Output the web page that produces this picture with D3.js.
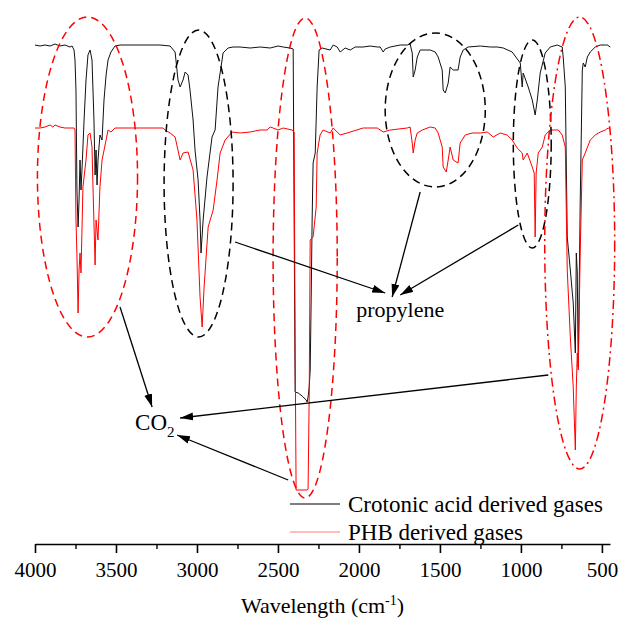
<!DOCTYPE html>
<html>
<head>
<meta charset="utf-8">
<script src="https://cdn.jsdelivr.net/npm/d3@7"></script>
<style>
  body { margin: 0; background: #fff; }
  svg text { font-family: "Liberation Serif", "Times New Roman", serif; fill: #000; }
</style>
</head>
<body>
<div id="chart"></div>
<script>
// Spectra: [wavenumber cm-1, signal] (arbitrary stacked units)
const crotonicSpectrum = [
  [4000,100],[3969,99.8],[3938,100],[3907,99.8],[3876,100.2],[3846,99.8],[3815,100],[3784,99.6],[3771,99.8],
  [3759,99],[3753,97],[3747,91],[3741,71],[3734,63.6],[3728,69],[3722,77],[3716,71],[3710,75],[3697,85],
  [3685,93],[3673,98],[3660,99],[3648,97],[3636,85],[3629,74],[3623,79],[3617,72],[3611,77],[3599,82],
  [3586,81],[3574,89],[3561,94],[3549,97],[3531,98.6],[3506,99.8],[3475,100],[3413,100],[3351,100],
  [3290,100],[3228,100],[3166,99.8],[3135,98.6],[3117,93],[3104,91.6],[3086,93],[3073,94.6],[3055,94],
  [3043,91],[3024,85],[3012,79],[2993,73],[2981,65],[2975,58.4],[2962,65],[2938,73.6],[2907,81.6],
  [2888,83],[2870,91.6],[2845,97],[2839,98.4],[2808,99.4],[2777,99.6],[2734,99.6],[2672,99.4],[2610,99.6],
  [2548,99.4],[2499,99.8],[2468,99.6],[2425,99.4],[2406,99.2],[2400,65],[2394,30.6],[2375,30.4],[2351,29.8],
  [2326,29],[2320,28.6],[2314,29.6],[2307,31.6],[2301,35],[2295,49],[2289,65],[2283,76.4],[2270,78.4],
  [2258,91.6],[2246,99],[2227,99.4],[2178,99],[2159,100],[2134,99.6],[2116,98.6],[2085,99.4],[2054,99],
  [2023,99.6],[1974,99.6],[1931,99.8],[1887,99.6],[1869,99.6],[1850,98.6],[1838,99.2],[1807,99.6],
  [1745,100],[1702,100],[1684,100.2],[1671,98.4],[1665,93.6],[1653,95],[1640,97.6],[1622,99],[1591,99],
  [1560,99],[1529,98.6],[1511,97.6],[1486,95],[1480,91],[1467,90.4],[1449,92.4],[1437,95.6],[1418,95],
  [1388,95],[1375,97.6],[1356,99],[1326,99.6],[1251,99.8],[1189,99.6],[1146,99.6],[1109,99.4],[1054,98.6],
  [1004,96.4],[992,91.6],[986,94.4],[955,91.6],[930,89],[912,86],[899,89],[881,94.4],[850,98.4],[819,99.6],
  [776,100],[745,99.6],[739,97.6],[726,91.6],[714,61.6],[695,55],[677,48.4],[664,38.4],[658,58.4],
  [652,54.4],[646,35.6],[640,51.6],[634,68.4],[621,95],[615,96.4],[603,95.6],[590,97.6],[572,98.6],
  [541,99.6],[510,100],[479,100],[467,100],[448,99.6]
];

const phbSpectrum = [
  [4000,83.4],[3969,83.4],[3938,83.6],[3907,84],[3890,83.6],[3876,84],[3846,83.6],[3815,83.4],[3784,83.4],
  [3759,83.4],[3753,83],[3747,65],[3741,58],[3734,46.4],[3728,55],[3722,58.4],[3716,54.4],[3704,71.6],
  [3685,77],[3673,82],[3660,82.4],[3648,79.6],[3642,71.6],[3629,56],[3623,65],[3611,61],[3599,71.6],
  [3586,77],[3561,81],[3549,83],[3531,82.6],[3506,83.4],[3475,83.4],[3413,83.4],[3351,83.4],[3290,83.4],
  [3228,83.4],[3209,83.4],[3197,83],[3166,82.4],[3135,81.6],[3104,77],[3086,78.4],[3055,78.6],[3024,75],
  [3000,65],[2981,49.6],[2968,43.6],[2956,51.6],[2931,63.6],[2900,67],[2876,73],[2857,78.4],[2826,81],
  [2783,82.6],[2734,82.4],[2672,82.6],[2610,83],[2567,83],[2548,83.6],[2530,83.4],[2499,83],[2468,83.4],
  [2413,83],[2400,82.6],[2394,40],[2388,11],[2351,11],[2320,11],[2314,11.2],[2307,30],[2301,61],
  [2283,61.6],[2264,67.6],[2258,78.4],[2240,82],[2221,83],[2178,82.4],[2159,83.4],[2116,82],[2073,82.4],
  [1974,83.4],[1887,83.4],[1850,82.6],[1807,83],[1702,83.4],[1684,83.6],[1671,80.4],[1665,78.4],[1653,81],
  [1640,82.4],[1609,83],[1560,83.6],[1529,83.4],[1511,82.4],[1486,79.6],[1480,75.6],[1461,74.6],[1449,77],
  [1437,79.6],[1418,77],[1388,76.4],[1375,80.4],[1344,82],[1301,82.4],[1251,82.4],[1208,82.6],[1171,81.6],
  [1128,82.4],[1085,82],[1054,81],[1023,79.4],[992,78.4],[986,77],[961,78.4],[930,75.6],[918,74.4],
  [912,61.6],[906,74.4],[893,78.4],[868,79.6],[850,82],[819,83],[769,83],[745,82],[726,79.6],[714,55],
  [695,41.6],[677,31.6],[664,19],[658,31.6],[652,38.4],[646,35],[634,58.4],[621,77],[603,78.4],[572,81],
  [541,82],[510,82.6],[479,83],[461,83.4],[448,83]
];

const seriesNames = ['Crotonic acid derived gases', 'PHB derived gases'];
const majorTicks = [4000, 3500, 3000, 2500, 2000, 1500, 1000, 500];
const minorTicks = [3750, 3250, 2750, 2250, 1750, 1250, 750];

// Annotation ellipses: [centre wn, centre signal, half-width wn, half-height signal, style]
const ellipses = [
  [3676, 73.6, 309, 32, 'red'],
  [2990, 72.3, 213, 30.7, 'black'],
  [2332, 57.4, 198, 48, 'red'],
  [1529, 87, 309, 15.4, 'black'],
  [930, 80.2, 117, 20.8, 'black'],
  [637, 60.4, 216, 45.2, 'reddot']
];

// Arrows: [from wn, from signal, to wn, to signal]
const propyleneArrows = [
  [2765, 60.6, 1838, 50.4],
  [1622, 70.6, 1795, 49.6],
  [1016, 64, 1745, 50]
];
const co2Arrows = [
  [3475, 47.6, 3277, 27.6],
  [831, 34, 3104, 25.4],
  [2437, 13, 3123, 22]
];

const FONT = '"Liberation Serif", "Times New Roman", serif';
const W = 621, H = 625;
const svg = d3.select('#chart').append('svg')
  .attr('width', W).attr('height', H)
  .attr('font-family', FONT);

const x = d3.scaleLinear().domain([4000, 450]).range([35, 610]);
const y = d3.scaleLinear().domain([0, 100]).range([545, 45]);

const defs = svg.append('defs');
defs.append('marker')
  .attr('id', 'arrow')
  .attr('markerUnits', 'userSpaceOnUse')
  .attr('markerWidth', 14).attr('markerHeight', 10)
  .attr('refX', 13).attr('refY', 4)
  .attr('orient', 'auto')
  .append('path')
  .attr('d', 'M0,0 L13,4 L0,8 Z')
  .attr('fill', '#000');

// spectra
const line = d3.line()
  .x(d => x(d[0]))
  .y(d => y(d[1]));

svg.append('path')
  .datum(crotonicSpectrum)
  .attr('fill', 'none')
  .attr('stroke', '#111')
  .attr('stroke-width', 1)
  .attr('stroke-linejoin', 'round')
  .attr('d', line);

svg.append('path')
  .datum(phbSpectrum)
  .attr('fill', 'none')
  .attr('stroke', '#ff0000')
  .attr('stroke-width', 1)
  .attr('stroke-linejoin', 'round')
  .attr('d', line);

// dashed ellipses
svg.append('g')
  .selectAll('ellipse')
  .data(ellipses)
  .enter()
  .append('ellipse')
  .attr('cx', d => x(d[0]))
  .attr('cy', d => y(d[1]))
  .attr('rx', d => Math.abs(x(d[0] + d[2]) - x(d[0])))
  .attr('ry', d => Math.abs(y(d[1] + d[3]) - y(d[1])))
  .attr('fill', 'none')
  .attr('stroke', d => d[4] === 'black' ? '#000' : '#ff0000')
  .attr('stroke-width', 1.5)
  .attr('stroke-dasharray', d => d[4] === 'reddot' ? '9,4,2,4' : '8,5');

// arrows
svg.append('g')
  .selectAll('line')
  .data(propyleneArrows.concat(co2Arrows))
  .enter()
  .append('line')
  .attr('x1', d => x(d[0]))
  .attr('y1', d => y(d[1]))
  .attr('x2', d => x(d[2]))
  .attr('y2', d => y(d[3]))
  .attr('stroke', '#000')
  .attr('stroke-width', 1.3)
  .attr('marker-end', 'url(#arrow)');

// labels
svg.append('text')
  .attr('x', x(1745))
  .attr('y', y(45.6))
  .attr('text-anchor', 'middle')
  .style('font-size', '22px')
  .text('propylene');

const co2 = svg.append('text')
  .attr('x', x(3382))
  .attr('y', y(23))
  .style('font-size', '23px');
co2.append('tspan').text('CO');
co2.append('tspan').attr('dy', 7).style('font-size', '15px').text('2');

// x axis
const axisY = 544;
const xAxis = svg.append('g')
  .attr('transform', `translate(0,${axisY})`)
  .call(d3.axisBottom(x)
    .tickValues(majorTicks)
    .tickSize(9)
    .tickSizeOuter(0)
    .tickFormat(d3.format('d')));

xAxis.attr('font-family', FONT);
xAxis.select('.domain').attr('stroke', '#000').attr('stroke-width', 1.6);
xAxis.selectAll('.tick line').attr('stroke', '#000').attr('stroke-width', 1.6);
xAxis.selectAll('.tick text')
  .attr('y', 33)
  .attr('dy', 0)
  .style('font-size', '21px')
  .style('font-family', FONT)
  .attr('fill', '#000');

svg.append('g')
  .attr('transform', `translate(0,${axisY})`)
  .call(d3.axisBottom(x)
    .tickValues(minorTicks)
    .tickSize(5)
    .tickSizeOuter(0)
    .tickFormat(''))
  .call(g => g.select('.domain').remove())
  .selectAll('.tick line').attr('stroke', '#000').attr('stroke-width', 1.4);

const title = svg.append('text')
  .attr('x', (x.range()[0] + x.range()[1]) / 2)
  .attr('y', 613)
  .attr('text-anchor', 'middle')
  .style('font-family', FONT)
  .style('font-size', '22px');
title.append('tspan').text('Wavelength (cm');
title.append('tspan').attr('dy', -8).style('font-size', '14px').text('-1');
title.append('tspan').attr('dy', 8).text(')');

// legend
const legend = svg.append('g');
const legendColors = ['#555', '#ffa8a8'];
seriesNames.forEach((name, i) => {
  const ly = 504 + i * 28;
  legend.append('line')
    .attr('x1', 290).attr('x2', 340)
    .attr('y1', ly).attr('y2', ly)
    .attr('stroke', legendColors[i])
    .attr('stroke-width', 1.5);
  legend.append('text')
    .attr('x', 348)
    .attr('y', ly + 8)
    .style('font-size', '23px')
    .text(name);
});
</script>
</body>
</html>
